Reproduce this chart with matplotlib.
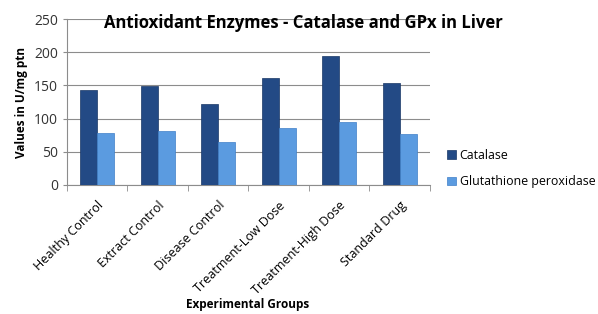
import matplotlib
matplotlib.use('Agg')
import matplotlib.pyplot as plt
import numpy as np

plt.rcParams['font.family'] = ['Open Sans', 'DejaVu Sans']

groups = ['Healthy Control', 'Extract Control', 'Disease Control',
          'Treatment-Low Dose', 'Treatment-High Dose', 'Standard Drug']
catalase = [143, 149, 122, 161, 195, 154]
gpx = [78, 81, 65, 86, 95, 77]

DARK = '#234a85'
LIGHT = '#5b9be0'

fig = plt.figure(figsize=(5.98, 3.14), dpi=100)
ax = fig.add_axes([0.112, 0.411, 0.607, 0.528])

x = np.arange(len(groups))
w = 0.28
ax.bar(x - w / 2, catalase, w, color=DARK, edgecolor='#1a3766', linewidth=0.5,
       label='Catalase', zorder=3)
ax.bar(x + w / 2, gpx, w, color=LIGHT, edgecolor='#3f7fc8', linewidth=0.5,
       label='Glutathione peroxidase', zorder=3)

ax.set_xlim(-0.5, len(groups) - 0.5)
ax.set_ylim(0, 250)
ax.set_yticks(range(0, 251, 50))
ax.yaxis.grid(True, color='#8c8c8c', linewidth=0.8, zorder=0)
ax.tick_params(axis='y', labelsize=10, length=3, color='#8c8c8c', labelcolor='#333333')

ax.set_xticks(x)
ax.set_xticklabels(groups, rotation=45, ha='right', rotation_mode='anchor', fontsize=9)
ax.set_xticks(np.arange(-0.5, len(groups)), minor=True)
ax.tick_params(axis='x', which='major', length=0, pad=10)
ax.tick_params(axis='x', which='minor', length=4, color='#8c8c8c')

for s in ['top', 'right']:
    ax.spines[s].set_visible(False)
for s in ['left', 'bottom']:
    ax.spines[s].set_color('#8c8c8c')

ax.set_ylabel('Values in U/mg ptn', fontsize=8.5, fontweight='bold')
fig.text(0.414, 0.029, 'Experimental Groups', fontsize=8.5, fontweight='bold',
         ha='center', va='center')
fig.text(0.507, 0.91, 'Antioxidant Enzymes - Catalase and GPx in Liver',
         fontsize=12, fontweight='bold', ha='center')

fig.legend(loc='center left', bbox_to_anchor=(0.748, 0.463), frameon=False,
           fontsize=8.9, handlelength=0.7, handleheight=0.7, handletextpad=0.3,
           labelspacing=1.1, borderaxespad=0, borderpad=0)

fig.savefig('out.png', dpi=100)
